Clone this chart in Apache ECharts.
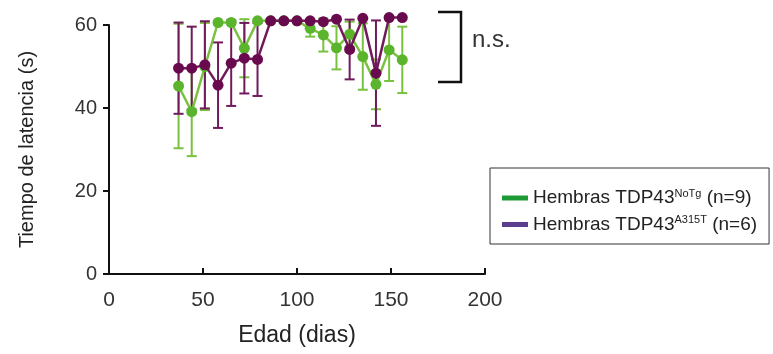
<!DOCTYPE html>
<html>
<head>
<meta charset="utf-8">
<script src="https://cdn.jsdelivr.net/npm/echarts@6/dist/echarts.min.js"></script>
<style>
  html, body { margin: 0; padding: 0; background: #fff; }
  #chart { width: 773px; height: 354px; }
</style>
</head>
<body>
<div id="chart"></div>
<script>
// edad (dias) de cada medida
const ages = [37, 44, 51, 58, 65, 72, 79, 86, 93, 100, 107, 114, 121, 128, 135, 142, 149, 156];

// Hembras TDP43 NoTg (n=9)
const noTgMean = [45.3, 39.1, 50.0, 60.6, 60.6, 54.4, 61.0, 61.0, 61.0, 61.0, 59.2, 57.6, 54.5, 57.8, 52.4, 45.7, 54.0, 51.6];
const noTgErr  = [15.0, 10.7, 10.5, 0, 0, 7.0, 0, 0, 0, 0, 2.0, 4.0, 5.2, 3.0, 8.0, 6.0, 7.5, 8.0];

// Hembras TDP43 A315T (n=6)
const a315tMean = [49.6, 49.6, 50.4, 45.5, 50.8, 52.0, 51.7, 61.0, 61.0, 61.0, 61.0, 60.8, 61.4, 54.1, 61.6, 48.4, 61.8, 61.8];
const a315tErr  = [11.0, 10.0, 10.5, 10.3, 10.3, 8.5, 8.8, 0, 0, 0, 0, 0, 0, 7.2, 0, 12.7, 0, 0];

const xTicks = [0, 50, 100, 150, 200];
const yTicks = [0, 20, 40, 60];

const greenMark = '#5bb52c';
const greenLine = '#79c23f';
const purpleMark = '#6a0a4e';
const purpleLine = '#701a5b';

function errData(mean, err) {
  return ages.map((a, i) => [a, mean[i] - err[i], mean[i] + err[i], err[i]]);
}

function errSeries(mean, err, color) {
  return {
    type: 'custom',
    silent: true,
    clip: false,
    data: errData(mean, err),
    renderItem: (params, api) => {
      if (api.value(3) <= 0) return null;
      const lo = api.coord([api.value(0), api.value(1)]);
      const hi = api.coord([api.value(0), api.value(2)]);
      const w = 5;
      const style = { stroke: color, lineWidth: 2 };
      return {
        type: 'group',
        children: [
          { type: 'line', shape: { x1: lo[0], y1: lo[1], x2: hi[0], y2: hi[1] }, style },
          { type: 'line', shape: { x1: lo[0] - w, y1: lo[1], x2: lo[0] + w, y2: lo[1] }, style },
          { type: 'line', shape: { x1: hi[0] - w, y1: hi[1], x2: hi[0] + w, y2: hi[1] }, style }
        ]
      };
    },
    z: 2
  };
}

const chart = echarts.init(document.getElementById('chart'));
const font = 'Liberation Sans, Arial, sans-serif';

chart.setOption({
  backgroundColor: '#fff',
  animation: false,
  textStyle: { fontFamily: font },
  grid: { left: 109, right: 288, top: 25, bottom: 80 },
  xAxis: {
    type: 'value',
    min: xTicks[0],
    max: xTicks[xTicks.length - 1],
    interval: 50,
    name: 'Edad (dias)',
    nameLocation: 'middle',
    nameGap: 50,
    nameTextStyle: { fontSize: 23, color: '#222', fontFamily: font },
    axisLine: { lineStyle: { color: '#111', width: 2 } },
    axisTick: { inside: true, length: 6, lineStyle: { color: '#111', width: 2 } },
    axisLabel: { fontSize: 21, color: '#333', margin: 16, fontFamily: font },
    splitLine: { show: false }
  },
  yAxis: {
    type: 'value',
    min: yTicks[0],
    max: yTicks[yTicks.length - 1],
    interval: 20,
    name: 'Tiempo de latencia (s)',
    nameLocation: 'middle',
    nameGap: 72,
    nameTextStyle: { fontSize: 20, color: '#222', fontFamily: font },
    axisLine: { show: true, lineStyle: { color: '#111', width: 2 } },
    axisTick: { show: true, length: 6, lineStyle: { color: '#111', width: 2 } },
    axisLabel: { fontSize: 20, color: '#333', margin: 12, fontFamily: font },
    splitLine: { show: false }
  },
  legend: {
    left: 490,
    top: 168,
    orient: 'vertical',
    padding: [20, 12, 10, 12],
    itemGap: 7,
    itemWidth: 26,
    itemHeight: 5,
    icon: 'rect',
    borderColor: '#333',
    borderWidth: 1,
    data: [
      { name: 'noTg', itemStyle: { color: '#1d9a35' } },
      { name: 'a315t', itemStyle: { color: '#5a3d8c' } }
    ],
    formatter: (name) => name === 'noTg'
      ? '{a|Hembras TDP43}{s|NoTg}{a| (n=9)}'
      : '{a|Hembras TDP43}{s|A315T}{a| (n=6)}',
    textStyle: {
      color: '#222',
      fontFamily: font,
      rich: {
        a: { fontSize: 19, lineHeight: 20, color: '#222', fontFamily: font },
        s: { fontSize: 11, lineHeight: 12, verticalAlign: 'top', color: '#222', fontFamily: font }
      }
    }
  },
  graphic: [
    {
      type: 'polyline',
      shape: { points: [[438, 12], [461, 12], [461, 82], [438, 82]] },
      style: { stroke: '#111', lineWidth: 2.5, fill: null }
    },
    {
      type: 'text',
      x: 472,
      y: 40,
      style: { text: 'n.s.', fontSize: 24, fill: '#333', fontFamily: font, verticalAlign: 'middle' }
    }
  ],
  series: [
    errSeries(noTgMean, noTgErr, greenLine),
    {
      name: 'noTg',
      type: 'line',
      clip: false,
      data: ages.map((a, i) => [a, noTgMean[i]]),
      symbol: 'circle',
      symbolSize: 11,
      itemStyle: { color: greenMark },
      lineStyle: { color: greenLine, width: 2.5 },
      z: 3
    },
    errSeries(a315tMean, a315tErr, purpleLine),
    {
      name: 'a315t',
      type: 'line',
      clip: false,
      data: ages.map((a, i) => [a, a315tMean[i]]),
      symbol: 'circle',
      symbolSize: 11,
      itemStyle: { color: purpleMark },
      lineStyle: { color: purpleLine, width: 2.5 },
      z: 5
    }
  ]
});
</script>
</body>
</html>
